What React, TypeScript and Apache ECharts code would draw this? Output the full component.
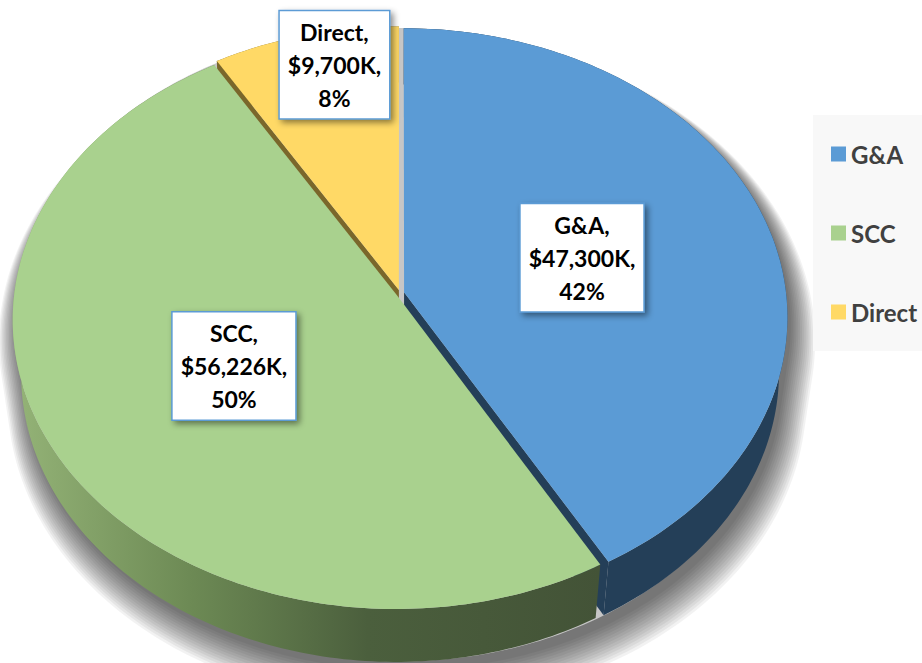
import React, { useEffect, useRef } from "react";
import * as echarts from "echarts";

// ---- data ----
const categories = ["G&A", "SCC", "Direct"];
const values = [47300, 56226, 9700]; // $K
const percents = [42, 50, 8];

// ---- style ----
const topColors = ["#5b9bd5", "#a9d18e", "#ffd966"];
const faceColors = ["#243f58", "#4a5e3c", "#7a672b"];
const FONT = "Lato, 'Open Sans', sans-serif";

// perspective camera (layout)
const CX = 400;
const CY = 293;
const SIN_A = 0.751;
const COS_A = 0.66;
const CAM_D = 7.62;
const FOCAL = 382 * CAM_D;
const THICK = 0.224;
const EXPLODE = 0.011;
const labelRho = [0.49, 0.49, 0.85];
const labelNudge: [number, number][] = [
  [-1, 1],
  [3, -1],
  [16, -6],
];

const TWO_PI = Math.PI * 2;
const total = values.reduce((a, b) => a + b, 0);
const starts: number[] = [];
{
  let acc = 0;
  values.forEach((v) => {
    starts.push((acc / total) * TWO_PI);
    acc += v;
  });
}

function geom(i: number) {
  const a0 = starts[i];
  const a1 = a0 + (values[i] / total) * TWO_PI;
  const mid = (a0 + a1) / 2;
  return { a0, a1, mid, ox: EXPLODE * Math.sin(mid), oz: EXPLODE * Math.cos(mid) };
}

// X: right, Z: far, bottom: 0 top face / 1 bottom face
function project(X: number, Z: number, bottom: number): number[] {
  const H = -THICK * bottom;
  const yc = Z * SIN_A + H * COS_A;
  const w = CAM_D + Z * COS_A - H * SIN_A;
  return [CX + (FOCAL * X) / w, CY - (FOCAL * yc) / w];
}

function rim(ox: number, oz: number, a0: number, a1: number, h: number) {
  const pts: number[][] = [];
  const n = Math.max(4, Math.ceil(((a1 - a0) * 180) / Math.PI));
  for (let j = 0; j <= n; j++) {
    const t = a0 + ((a1 - a0) * j) / n;
    pts.push(project(ox + Math.sin(t), oz + Math.cos(t), h));
  }
  return pts;
}

const FRONT_LIMIT = -1 / (CAM_D * COS_A);

function silhouette(scale: number, dx: number, dy: number) {
  const pts: number[][] = [];
  const n = 360;
  for (let j = 0; j < n; j++) {
    const t = (j / n) * TWO_PI;
    const front = Math.cos(t) < FRONT_LIMIT;
    const p = project(Math.sin(t) * 1.004, Math.cos(t) * 1.004, front ? 1 : 0);
    pts.push([CX + (p[0] - CX) * scale + dx, 330 + (p[1] - 330) * scale + dy]);
  }
  return pts;
}

function makeRender(layer: string) {
  return (params: any) => {
    const i = params.dataIndex;
    const g = geom(i);
    const children: any[] = [];
    if (layer === "shadow") {
      if (i === 0) {
        // soft halo built from stacked translucent outlines
        const steps = 14;
        for (let L = steps; L >= 1; L--) {
          const f = L / steps;
          children.push({
            type: "polygon",
            shape: { points: silhouette(1 + 0.06 * f, 4 + 3 * f, 6 + 18 * f) },
            style: { fill: "rgba(0,0,0,0.05)" },
          });
        }
        children.push({
          type: "polygon",
          shape: { points: silhouette(1, 0, 0) },
          style: { fill: "#c6c6c6" },
        });
      }
    } else if (layer === "faces") {
      const addFace = (a: number) => {
        const apexT = project(g.ox, g.oz, 0);
        const apexB = project(g.ox, g.oz, 1);
        const rT = project(g.ox + Math.sin(a), g.oz + Math.cos(a), 0);
        const rB = project(g.ox + Math.sin(a), g.oz + Math.cos(a), 1);
        children.push({
          type: "polygon",
          shape: { points: [apexT, rT, rB, apexB] },
          style: { fill: faceColors[i] },
        });
      };
      if (Math.sin(g.a0) < -1e-6) addFace(g.a0);
      if (Math.sin(g.a1) > 1e-6) addFace(g.a1);
    } else if (layer === "walls") {
      const top = rim(g.ox, g.oz, g.a0, g.a1, 0);
      const bot = rim(g.ox, g.oz, g.a0, g.a1, 1).reverse();
      let fill: any = faceColors[i];
      if (i === 1) {
        fill = new echarts.graphic.LinearGradient(
          20,
          0,
          600,
          0,
          [
            { offset: 0, color: "#93b276" },
            { offset: 0.3, color: "#6c8954" },
            { offset: 0.6, color: "#4b5f3d" },
            { offset: 1, color: "#435337" },
          ],
          true
        );
      }
      children.push({
        type: "polygon",
        shape: { points: top.concat(bot) },
        style: { fill },
      });
    } else if (layer === "tops") {
      const pts = [project(g.ox, g.oz, 0)].concat(rim(g.ox, g.oz, g.a0, g.a1, 0));
      children.push({
        type: "polygon",
        shape: { points: pts },
        style: { fill: topColors[i] },
      });
    } else if (layer === "labels") {
      const r = labelRho[i];
      const p = project(g.ox + r * Math.sin(g.mid), g.oz + r * Math.cos(g.mid), 0);
      const txt =
        categories[i] +
        ",\n$" +
        values[i].toLocaleString("en-US") +
        "K,\n" +
        percents[i] +
        "%";
      children.push({
        type: "text",
        x: p[0] + labelNudge[i][0],
        y: p[1] + labelNudge[i][1],
        style: {
          text: txt,
          align: "center",
          verticalAlign: "middle",
          font: "bold 23px " + FONT,
          fill: "#000",
          lineHeight: 33,
          backgroundColor: "#ffffff",
          borderColor: "#5b9bd5",
          borderWidth: 1.5,
          padding: [4, 8, 4, 8],
          shadowBlur: 6,
          shadowOffsetX: 3,
          shadowOffsetY: 3,
          shadowColor: "rgba(0,0,0,0.45)",
        },
      });
    }
    return { type: "group", children };
  };
}

export default function App() {
  const ref = useRef<HTMLDivElement>(null);
  useEffect(() => {
    if (!ref.current) return;
    const chart = echarts.init(ref.current, undefined, { renderer: "svg" });
    const customData = values.map((v, i) => ({ name: categories[i], value: [v] }));
    const layers = ["shadow", "faces", "walls", "tops", "labels"];
    chart.setOption({
      animation: false,
      backgroundColor: "#ffffff",
      legend: {
        data: categories,
        orient: "vertical",
        left: 813,
        top: 115,
        icon: "rect",
        itemWidth: 15,
        itemHeight: 15,
        itemGap: 55,
        padding: [27, 12, 27, 18],
        backgroundColor: "#f8f8f8",
        selectedMode: false,
        textStyle: {
          fontFamily: FONT,
          fontWeight: "bold",
          fontSize: 24,
          color: "#404040",
        },
      },
      series: [
        {
          type: "pie",
          name: "legendSource",
          center: [-500, -500],
          radius: [0, 1],
          silent: true,
          label: { show: false },
          labelLine: { show: false },
          data: categories.map((c, i) => ({
            name: c,
            value: values[i],
            itemStyle: { color: topColors[i] },
          })),
        },
        ...layers.map((layer) => ({
          type: "custom",
          name: "pie3d-" + layer,
          coordinateSystem: "none",
          silent: true,
          renderItem: makeRender(layer),
          data: customData,
        })),
      ],
    });
    return () => chart.dispose();
  }, []);
  return (
    <div
      ref={ref}
      style={{ position: "fixed", left: 0, top: 0, width: 922, height: 663 }}
    />
  );
}
